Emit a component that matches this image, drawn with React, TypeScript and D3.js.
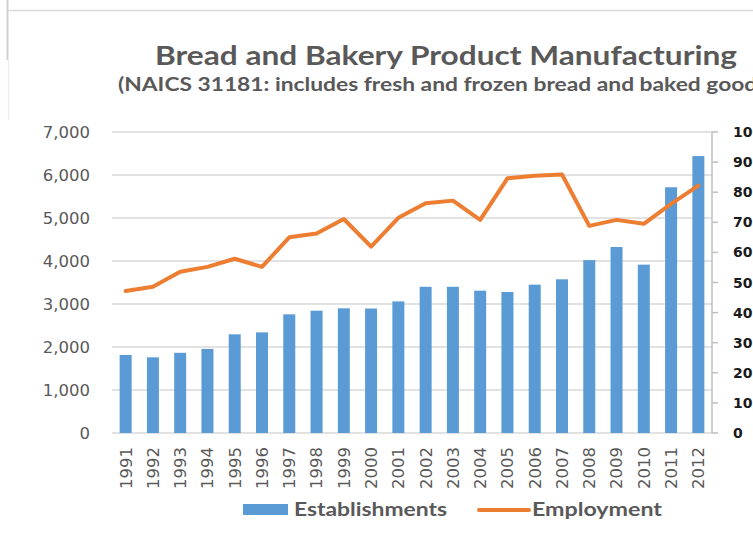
import React from "react";
import * as d3 from "d3";

const years = ["1991","1992","1993","1994","1995","1996","1997","1998","1999","2000","2001","2002","2003","2004","2005","2006","2007","2008","2009","2010","2011","2012"];
const establishments = [1815,1760,1865,1955,2295,2340,2760,2845,2900,2895,3060,3400,3400,3310,3280,3450,3575,4020,4325,3915,5715,6440];
const employment = [47200,48600,53600,55200,57900,55200,65000,66300,71100,61900,71500,76300,77200,70800,84600,85500,85900,68800,70800,69500,76100,82200];
const leftTicks = [0,1000,2000,3000,4000,5000,6000,7000];
const rightTicks = [0,10000,20000,30000,40000,50000,60000,70000,80000,90000,100000];
const title = "Bread and Bakery Product Manufacturing";
const subtitle = "(NAICS 31181: includes fresh and frozen bread and baked goods)";
const seriesNames = ["Establishments", "Employment"];

const W = 753, H = 540;
const plotLeft = 112, plotRight = 712, plotTop = 132, plotBottom = 433;
const BLUE = "#5B9BD5", ORANGE = "#ED7D31", GRAY = "#595959";

export default function App() {
  const x = d3.scaleBand<string>().domain(years).range([plotLeft, plotRight]).paddingInner(0.56).paddingOuter(0.28);
  const yL = d3.scaleLinear().domain([0, 7000]).range([plotBottom, plotTop]);
  const yR = d3.scaleLinear().domain([0, 100000]).range([plotBottom, plotTop]);
  const fmt = d3.format(",");
  const cx = (y: string) => (x(y) as number) + x.bandwidth() / 2;
  const line = d3.line<number>().x((_, i) => cx(years[i])).y((d) => yR(d));

  return (
    <svg width={W} height={H} style={{ position: "absolute", left: 0, top: 0, background: "#fff" }}>
      <rect x={0} y={0} width={W} height={H} fill="#fff" />
      <line x1={7.5} x2={7.5} y1={0} y2={60} stroke="#d0d0d0" strokeWidth={2} />
      <line x1={8.5} x2={8.5} y1={60} y2={120} stroke="#eeeeee" strokeWidth={1.5} />
      <line x1={8} x2={W} y1={10.5} y2={10.5} stroke="#d9d9d9" strokeWidth={1.5} />

      <text x={155} y={65} fontFamily="Lato" fontWeight={700} fontSize={27} fill={GRAY} textLength={582} lengthAdjust="spacingAndGlyphs">{title}</text>
      <text x={118} y={91} fontFamily="Lato" fontWeight={700} fontSize={18} fill={GRAY} textLength={655} lengthAdjust="spacingAndGlyphs">{subtitle}</text>

      {leftTicks.map((t) => (
        <g key={"g" + t}>
          <line x1={plotLeft} x2={plotRight} y1={yL(t)} y2={yL(t)} stroke="#d9d9d9" strokeWidth={1.5} />
          <text x={90} y={yL(t)} dy="0.36em" textAnchor="end" fontFamily="DejaVu Sans" fontSize={16.5} fill={GRAY}>{fmt(t)}</text>
        </g>
      ))}

      {years.map((yr, i) => (
        <rect key={"b" + yr} x={x(yr)} y={yL(establishments[i])} width={x.bandwidth()} height={plotBottom - yL(establishments[i])} fill={BLUE} />
      ))}

      <path d={line(employment) || ""} fill="none" stroke={ORANGE} strokeWidth={4} strokeLinejoin="round" strokeLinecap="round" />

      {years.map((yr) => (
        <text key={"t" + yr} transform={`translate(${cx(yr)},447) rotate(-90)`} textAnchor="end" dy="0.36em" fontFamily="DejaVu Sans" fontSize={16.5} fill={GRAY}>{yr}</text>
      ))}

      <line x1={plotRight} x2={plotRight} y1={plotTop} y2={plotBottom} stroke="#bfbfbf" strokeWidth={1.5} />
      {rightTicks.map((t) => (
        <g key={"r" + t}>
          <line x1={plotRight} x2={plotRight + 6} y1={yR(t)} y2={yR(t)} stroke="#bfbfbf" strokeWidth={1.5} />
          <text x={733} y={yR(t)} dy="0.36em" fontFamily="DejaVu Sans" fontWeight={700} fontSize={14} fill="#1a1a1a">{fmt(t)}</text>
        </g>
      ))}

      <rect x={243} y={504} width={45} height={11} fill={BLUE} />
      <text x={294} y={516} fontFamily="Lato" fontWeight={700} fontSize={18} fill={GRAY} textLength={153} lengthAdjust="spacingAndGlyphs">{seriesNames[0]}</text>
      <line x1={479} x2={529} y1={510} y2={510} stroke={ORANGE} strokeWidth={4} strokeLinecap="round" />
      <text x={532} y={516} fontFamily="Lato" fontWeight={700} fontSize={18} fill={GRAY} textLength={130} lengthAdjust="spacingAndGlyphs">{seriesNames[1]}</text>
    </svg>
  );
}
